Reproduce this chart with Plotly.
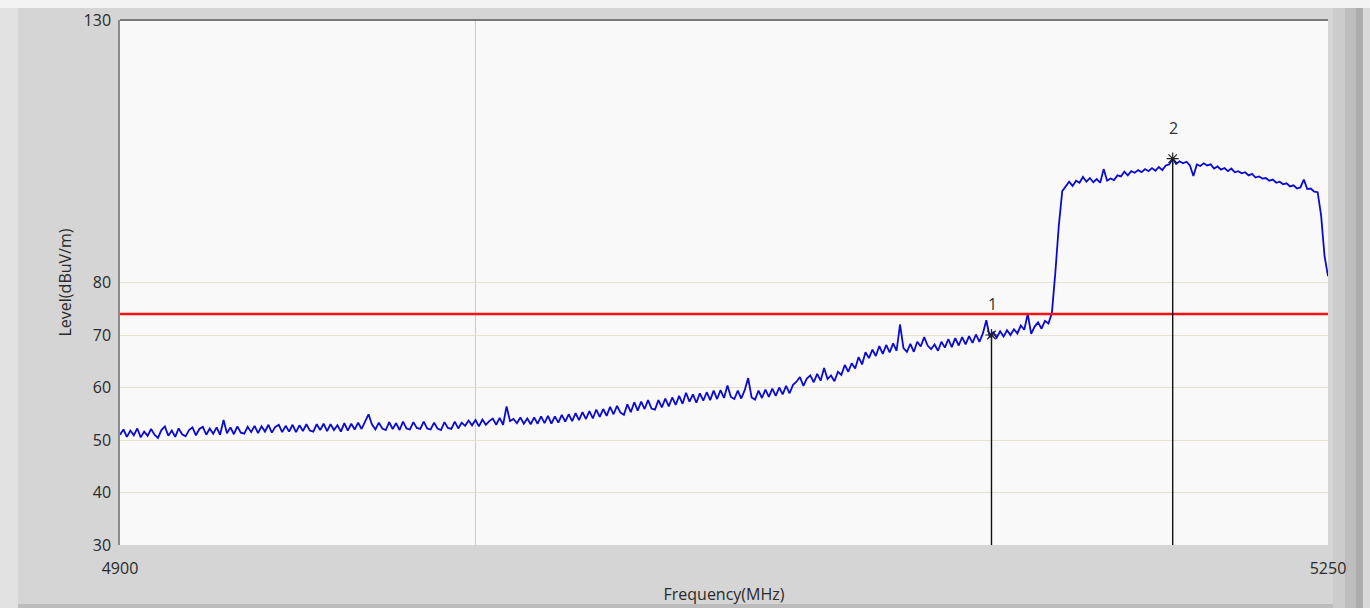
import plotly.graph_objects as go

# Spectrum sweep, 4900-5250 MHz, 1 MHz step
freq_start = 4900
freq_step = 1
level = [
    51.0, 52.0, 50.6, 51.8, 50.9, 52.2, 50.5, 51.6, 50.8, 52.1,
    51.0, 50.4, 51.9, 52.6, 50.8, 51.8, 50.6, 52.2, 51.1, 50.7,
    51.9, 52.4, 50.9, 52.1, 52.5, 51.0, 52.2, 51.2, 52.4, 51.0,
    53.8, 51.3, 52.4, 51.1, 52.6, 51.4, 51.2, 52.5, 51.5, 52.7,
    51.3, 52.6, 51.6, 52.9, 51.4, 52.5, 52.9, 51.5, 52.7, 51.6,
    52.9, 51.5, 52.8, 51.7, 53.0, 51.8, 51.6, 53.0, 51.9, 53.1,
    51.7, 53.0, 51.9, 52.8, 51.6, 53.2, 51.8, 53.1, 52.0, 53.3,
    52.1, 53.6, 54.9, 53.0, 52.0, 53.3, 52.2, 51.9, 53.4, 52.1,
    53.2, 51.9, 53.5, 52.2, 52.0, 53.4, 52.3, 52.1, 53.5, 52.2,
    52.0, 53.3, 52.2, 51.9, 53.4, 52.3, 52.1, 53.5, 52.2, 53.3,
    52.7, 53.7, 52.8, 53.8, 52.6, 53.9, 52.9, 53.6, 54.1, 52.9,
    54.2, 52.9, 56.4, 53.6, 54.0, 53.2, 54.3, 53.1, 54.1, 53.0,
    54.3, 53.1, 54.5, 53.2, 54.6, 53.1, 54.5, 53.3, 54.8, 53.5,
    54.9, 53.6, 55.1, 53.8, 55.3, 54.0, 55.5, 54.1, 55.8, 54.4,
    55.9, 54.6, 56.3, 54.9, 56.5, 55.2, 54.8, 56.8, 55.3, 57.2,
    55.6, 57.3, 55.9, 57.6, 56.0, 55.8, 57.6, 56.2, 57.9, 56.4,
    58.1, 56.7, 58.4, 56.9, 59.0, 57.3, 58.7, 57.1, 58.9, 57.5,
    59.1, 57.6, 59.4, 57.8, 59.5, 58.0, 60.4, 58.2, 57.8, 59.4,
    57.9, 59.5, 61.8, 58.1, 57.7, 59.4, 58.0, 59.6, 58.2, 59.8,
    58.4, 60.0, 58.7, 60.3, 58.9, 60.5, 61.1, 62.0, 60.3, 61.7,
    62.3, 61.0, 62.6, 61.3, 63.7, 61.6, 62.3, 61.2, 63.0, 62.4,
    64.3, 63.0, 64.6, 63.6, 65.8, 64.4, 66.7, 65.6, 67.2, 66.0,
    67.9, 66.4, 68.1, 66.7, 68.4, 67.0, 72.0, 67.5, 66.8, 68.3,
    66.8, 68.7, 67.8, 69.6, 68.0, 67.3, 68.2, 67.0, 68.7, 67.6,
    69.2, 67.7, 69.4, 68.0, 69.6, 68.2, 69.8, 68.5, 70.1, 68.7,
    70.3, 72.8, 69.6, 70.5, 69.5, 70.7, 69.7, 70.9, 70.0, 71.1,
    70.3, 71.8, 71.0, 74.0, 70.2, 71.6, 72.4, 71.2, 72.7, 72.2,
    74.2, 81.9, 90.8, 97.4, 98.2, 99.2, 98.4, 99.4, 99.0, 100.1,
    99.2, 99.9, 99.1, 99.7, 99.0, 101.6, 99.4, 99.8, 99.5, 100.4,
    100.2, 101.1, 100.4, 101.2, 100.9, 101.4, 101.0, 101.6, 101.2, 101.8,
    101.3, 102.0, 101.4, 102.3, 102.5, 103.6, 102.6, 103.1, 102.7, 103.0,
    102.3, 100.3, 102.5, 102.2, 102.7, 102.3, 102.5, 101.7, 102.1, 101.5,
    101.8, 101.2, 101.7, 101.0, 101.2, 100.8, 101.0, 100.4, 100.7, 100.0,
    100.2, 99.8, 99.9, 99.4, 99.6, 99.0, 99.2, 98.7, 98.9, 98.3,
    98.5, 97.9, 98.1, 99.6, 97.8, 97.9, 97.3, 97.2, 92.8, 85.0,
    81.2,
]
freq = [freq_start + i * freq_step for i in range(len(level))]

limit_level = 74
marker_labels = ["1", "2"]
marker_freq = [5152.5, 5205]
marker_level = [70.0, 103.6]

y_ticks = [30, 40, 50, 60, 70, 80, 130]
x_ticks = [4900, 5250]
y_range = [30, 130]
x_range = [4900, 5250]
grid_freq = 5003

fig = go.Figure()

# measured trace
fig.add_trace(go.Scatter(
    x=freq, y=level, mode="lines",
    line=dict(color="#0a0ad0", width=1.8),
    showlegend=False, hoverinfo="x+y",
))

# limit line
fig.add_trace(go.Scatter(
    x=x_range, y=[limit_level, limit_level], mode="lines",
    line=dict(color="#ff1010", width=2.6),
    showlegend=False,
))

# marker drop lines
for f, v in zip(marker_freq, marker_level):
    fig.add_trace(go.Scatter(
        x=[f, f], y=[y_range[0], v], mode="lines",
        line=dict(color="#111111", width=1.4),
        showlegend=False, hoverinfo="skip",
    ))

# marker points
fig.add_trace(go.Scatter(
    x=marker_freq, y=marker_level, mode="markers",
    marker=dict(symbol="asterisk-open", size=10, color="#222222",
                line=dict(color="#3a3000", width=1.2)),
    showlegend=False,
))

for lab, f, v in zip(marker_labels, marker_freq, marker_level):
    fig.add_annotation(
        x=f, y=v, text=lab, showarrow=False, yshift=31, xshift=1,
        font=dict(family="Open Sans", size=16, color="#333333"),
    )

# vertical grid line
fig.add_shape(type="line", xref="x", yref="paper",
              x0=grid_freq, x1=grid_freq, y0=0, y1=1,
              line=dict(color="#d0d0d0", width=1.2), layer="below")

# window frame bands around the plot
px_w = 1208.0
px_h = 525.0


def px_x(p):
    return (p - 120) / px_w


def px_y(p):
    return (545 - p) / px_h


frame = [
    (0, 0, 18, 608, "#e2e2e2"),
    (0, 0, 1370, 8, "#f3f3f3"),
    (1333, 8, 1345, 608, "#cccccc"),
    (1345, 8, 1356, 608, "#bebebe"),
    (1356, 8, 1363, 608, "#acacac"),
    (1363, 8, 1370, 608, "#d9d9d9"),
    (18, 604, 1333, 608, "#bcbcbc"),
]
for x0, y0, x1, y1, c in frame:
    fig.add_shape(type="rect", xref="paper", yref="paper",
                  x0=px_x(x0), x1=px_x(x1), y0=px_y(y1), y1=px_y(y0),
                  fillcolor=c, line=dict(width=0), layer="below")

# top frame line of the plot area
fig.add_shape(type="line", xref="paper", yref="paper",
              x0=0, x1=1, y0=1, y1=1,
              line=dict(color="#7a7a7a", width=2))

text_font = dict(family="Open Sans", size=16, color="#2a2a2a")

fig.update_layout(
    width=1370, height=608,
    margin=dict(l=120, r=42, t=20, b=63, autoexpand=False),
    paper_bgcolor="#d5d5d5",
    plot_bgcolor="#f9f9f9",
    xaxis=dict(
        range=x_range, tickvals=x_ticks, ticktext=[str(t) for t in x_ticks],
        showgrid=False, zeroline=False, showline=False, automargin=False,
        ticks="outside", ticklen=9, tickcolor="rgba(0,0,0,0)",
        tickfont=text_font,
        title=dict(text="Frequency(MHz)", font=text_font, standoff=10),
    ),
    yaxis=dict(
        range=y_range, tickvals=y_ticks, ticktext=[str(t) for t in y_ticks],
        showgrid=True, gridcolor="#e6e2cf", gridwidth=1.2,
        zeroline=False, showline=True, linecolor="#8a8a8a", linewidth=1.5,
        automargin=False,
        ticks="outside", ticklen=4, tickcolor="rgba(0,0,0,0)",
        tickfont=text_font,
        title=dict(text="Level(dBuV/m)", font=text_font, standoff=8),
    ),
)

fig.write_html("out.html")
